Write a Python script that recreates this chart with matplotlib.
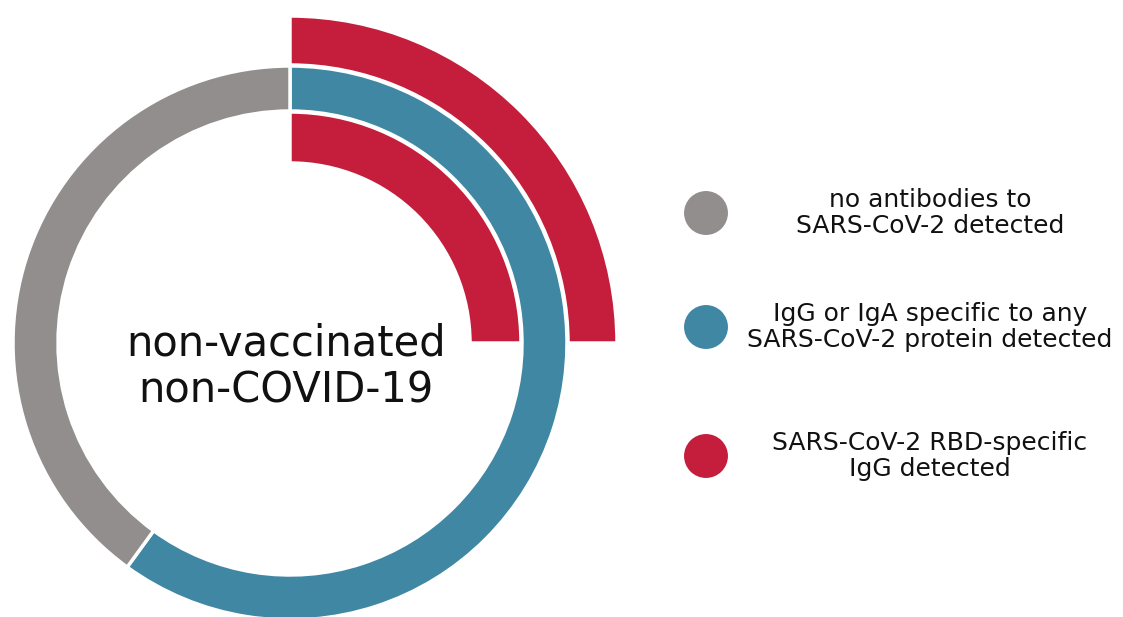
# Antibody status ring chart for the non-vaccinated, non-COVID-19 group.
# Middle ring: any antibody vs none; red quarter arcs: RBD-specific IgG.
import matplotlib; matplotlib.use("Agg")
import matplotlib.pyplot as plt

# shares in percent
any_ab = [60, 40]          # IgG/IgA to any protein, none detected
rbd_inner = 25             # RBD-specific IgG (inner arc)
rbd_outer = 25             # RBD-specific IgG (outer arc)
labels = ["no antibodies to\nSARS-CoV-2 detected",
          "IgG or IgA specific to any\nSARS-CoV-2 protein detected",
          "SARS-CoV-2 RBD-specific\nIgG detected"]
center_label = "non-vaccinated\nnon-COVID-19"

GRAY, BLUE, RED = "#918e8d", "#4087a4", "#c41e3c"
FONT = ["DejaVu Sans"]

W, H = 1123, 617
fig = plt.figure(figsize=(W / 100, H / 100), dpi=100)
ax = fig.add_axes([0, 0, 1, 1])
cx, cy = 290, 274
wp = dict(edgecolor="white", linewidth=2.5)

# middle ring
ax.pie(any_ab, colors=[BLUE, GRAY], radius=277, center=(cx, cy), startangle=90,
       counterclock=False, wedgeprops=dict(width=45, **wp))
# red arcs (only the RBD share is shown)
for val, r, w in [(rbd_outer, 327, 49), (rbd_inner, 231, 51)]:
    wedges, _ = ax.pie([val, 100 - val], colors=[RED, "none"], radius=r, center=(cx, cy),
                       startangle=90, counterclock=False, wedgeprops=dict(width=w, **wp))
    wedges[1].set_visible(False)

ax.text(cx - 4, 250, center_label, ha="center", va="center", fontsize=30,
        family=FONT, color="#111", linespacing=1.15)

# legend
leg_y = [404, 290, 161]
for lab, col, y in zip(labels, [GRAY, BLUE, RED], leg_y):
    ax.scatter([706], [y], s=1000, color=col, edgecolors="none")
    ax.text(930, y, lab, ha="center", va="center", fontsize=18, family=FONT,
            color="#111", linespacing=1.12)

ax.set_xlim(0, W); ax.set_ylim(0, H); ax.set_aspect("equal")
ax.axis("off")
fig.savefig("out.png", dpi=100, facecolor="white")
